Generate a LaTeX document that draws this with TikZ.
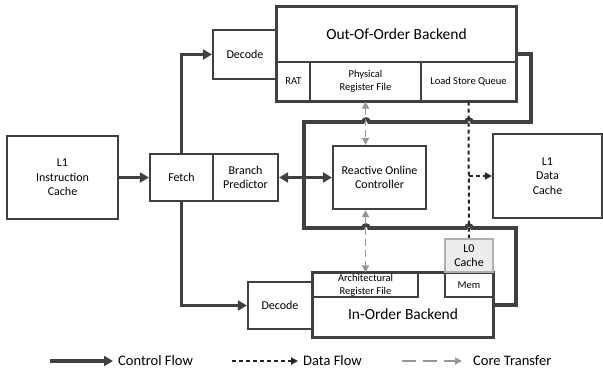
\documentclass[tikz,border=0pt]{standalone}
\usepackage{fontspec}
\setmainfont{Carlito}
\usetikzlibrary{arrows.meta,positioning,calc}
\definecolor{wiregray}{RGB}{64,64,64}
\definecolor{xfergray}{RGB}{150,150,150}
\definecolor{cachefill}{RGB}{236,236,236}
\definecolor{cacheedge}{RGB}{175,175,175}

\begin{document}
\begin{tikzpicture}[
  x=1pt, y=-1pt, font=\fontsize{12}{14.6}\selectfont,
  blk/.style={rectangle, draw=wiregray, line width=2.2pt, fill=white,
              align=center, inner sep=0pt},
  sub/.style={rectangle, draw=wiregray, line width=1.2pt, align=center,
              inner sep=0pt, font=\fontsize{10.5}{12.6}\selectfont},
  big/.style={inner sep=0pt, font=\fontsize{15.5}{18}\selectfont},
  wire/.style={line width=3.6pt, draw=wiregray},
  ctl/.style={wire, -{Triangle[length=9pt,width=10pt]}},
  datline/.style={line width=2pt, draw=black!85, dash pattern=on 4pt off 3pt},
  dat/.style={datline, -{Triangle[length=7pt,width=7pt]}},
  xfer/.style={line width=1.8pt, draw=xfergray, dash pattern=on 7pt off 4pt,
               {Triangle[length=7pt,width=7pt]}-{Triangle[length=7pt,width=7pt]}},
  lbl/.style={anchor=west, inner xsep=5pt, inner ysep=0pt,
              font=\fontsize{14.5}{17}\selectfont}]

  \useasboundingbox (0,0) rectangle (603,383);

  % ---------- front end ----------
  \node[blk, minimum width=111pt, minimum height=83pt] (l1i) at (62.5,177.5) {L1\\Instruction\\Cache};
  \node[blk, minimum width=63pt, minimum height=47pt] (fetch) at (181.5,177.5) {Fetch};
  \node[blk, minimum width=65pt, minimum height=47pt] (bp) at (245.5,177.5) {Branch\\Predictor};
  \node[blk, minimum width=64pt, minimum height=49pt] (dectop) at (245,54.5) {Decode};
  \node[blk, minimum width=64pt, minimum height=47pt] (decbot) at (280,305.5) {Decode};

  % ---------- out-of-order backend ----------
  \node[blk, minimum width=239pt, minimum height=94pt] (ooo) at (396.5,54) {};
  \node[big] (ootxt) at (396.5,34.5) {Out-Of-Order Backend};
  \node[sub, minimum width=33pt, minimum height=39pt] (rat) at (293.5,81.5) {RAT};
  \node[sub, minimum width=111pt, minimum height=39pt] (prf) at (365.5,81.5) {Physical\\Register File};
  \node[sub, minimum width=95pt, minimum height=39pt] (lsq) at (468.5,81.5) {Load Store Queue};
  \draw[wiregray, line width=2.2pt] (ooo.north west) rectangle (ooo.south east);

  % ---------- controller and data cache ----------
  \node[blk, minimum width=93pt, minimum height=63pt] (roc) at (379.5,177.5) {Reactive Online\\Controller};
  \node[blk, minimum width=109pt, minimum height=84pt] (l1d) at (547.5,176) {L1\\Data\\Cache};

  % ---------- in-order backend ----------
  \node[blk, minimum width=180pt, minimum height=64pt] (ino) at (403,305) {};
  \node[big] (inotxt) at (403,314) {In-Order Backend};
  \node[sub, minimum width=105pt, minimum height=24pt] (arf) at (365.5,285) {Architectural\\Register File};
  \node[sub, minimum width=48pt, minimum height=24pt] (mem) at (469,285) {Mem};
  \draw[wiregray, line width=2.2pt] (ino.north west) rectangle (ino.south east);
  \node[blk, draw=cacheedge, fill=cachefill, minimum width=48pt, minimum height=33pt] (l0) at (469,255.5) {L0\\Cache};

  % loop round the controller, with hops over the crossing lines
  \draw[wire] (ooo.east) -- (531,54) -- (531,122) -- (472,122)
    arc[start angle=0, end angle=-180, radius=3] -- (369,122)
    arc[start angle=0, end angle=-180, radius=3] -- (304,122) -- (304,228) -- (363,228)
    arc[start angle=180, end angle=360, radius=3] -- (466,228)
    arc[start angle=180, end angle=360, radius=3] -- (516,228) -- (516,305) -- (ino.east);

  % control flow
  \draw[ctl] (l1i.east) -- (fetch.west);
  \draw[ctl] (fetch.north) |- (dectop.west);
  \draw[ctl] (fetch.south) |- (decbot.west);
  \draw[ctl, {Triangle[length=9pt,width=10pt]}-{Triangle[length=9pt,width=10pt]}] (bp.east) -- (roc.west);

  % core transfer
  \draw[xfer] (prf.south) -- (prf.south |- roc.north);
  \draw[xfer] (arf.north |- roc.south) -- (arf.north);

  % data flow
  \coordinate (tap) at (lsq.south |- l1d.west);
  \draw[datline] (lsq.south) -- (l0.north);
  \draw[dat] (tap) -- (l1d.west);

  % ---------- legend ----------
  \node[lbl] (lgctl) at (113,361) {Control Flow};
  \node[lbl] (lgdat) at (298,361) {Data Flow};
  \node[lbl] (lgxfer) at (468,361) {Core Transfer};
  \coordinate (lgctl0) at (50,361);
  \coordinate (lgdat0) at (232,361);
  \coordinate (lgxfer0) at (402,361);
  \draw[ctl] (lgctl0) -- (lgctl.west);
  \draw[dat] (lgdat0) -- (lgdat.west);
  \draw[xfer, -{Triangle[length=7pt,width=7pt]}, dash pattern=on 14pt off 7pt, shorten >=6pt] (lgxfer0) -- (lgxfer.west);

\end{tikzpicture}
\end{document}
